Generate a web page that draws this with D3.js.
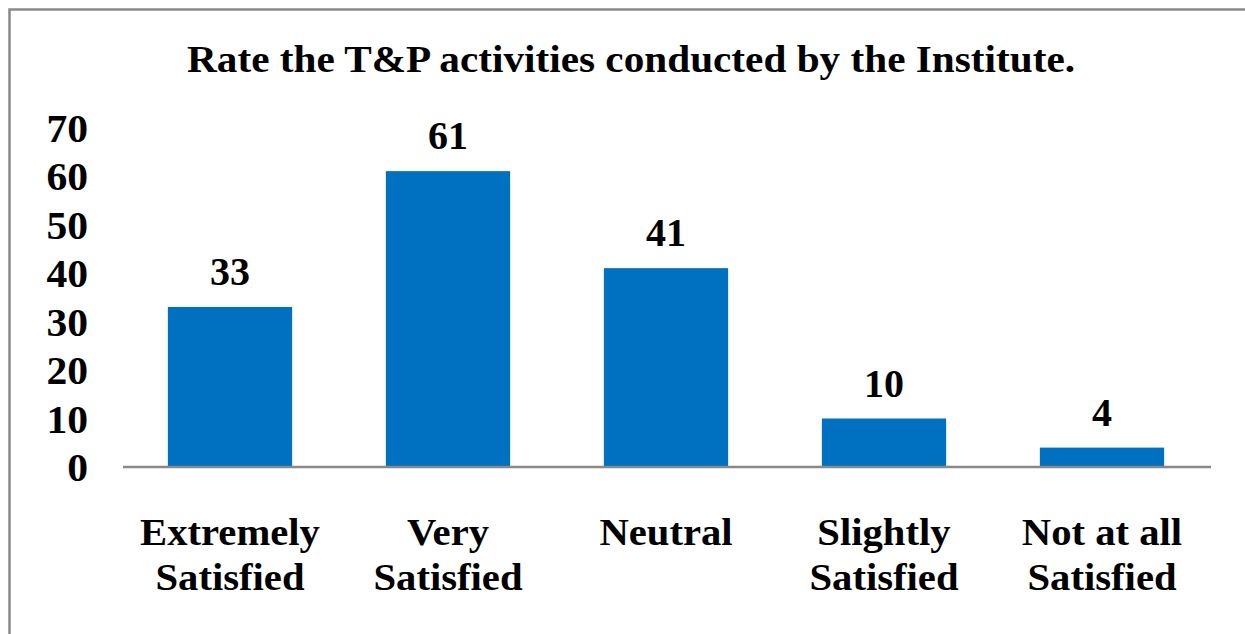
<!DOCTYPE html>
<html><head><meta charset="utf-8">
<script src="https://cdn.jsdelivr.net/npm/d3@7"></script>
<style>body{margin:0;background:#fff;}svg{display:block;}</style>
</head><body>
<svg id="c" width="1245" height="634"></svg>
<script>
const title = "Rate the T&P activities conducted by the Institute.";
const categories = [["Extremely","Satisfied"],["Very","Satisfied"],["Neutral"],["Slightly","Satisfied"],["Not at all","Satisfied"]];
const values = [33, 61, 41, 10, 4];
const yTicks = [0, 10, 20, 30, 40, 50, 60, 70];

const svg = d3.select("#c");
const font = "'Liberation Serif','Times New Roman',serif";
svg.append("rect").attr("x",9.5).attr("y",9.5).attr("width",1300).attr("height",700)
  .attr("fill","#fff").attr("stroke","#898989").attr("stroke-width",2.5);

const x = d3.scaleBand().domain(d3.range(values.length)).range([121,1211]).paddingInner(0.43).paddingOuter(0.215);
const y = d3.scaleLinear().domain([0,70]).range([467,127.5]);

svg.append("text").attr("x",631).attr("y",72).attr("text-anchor","middle")
  .attr("font-family",font).attr("font-weight","bold").attr("font-size",38)
  .attr("textLength",888).attr("lengthAdjust","spacingAndGlyphs").text(title);

svg.selectAll("text.tick").data(yTicks).enter().append("text").attr("class","tick")
  .attr("x",88).attr("y",d=>y(d)+14.5).attr("text-anchor","end")
  .attr("font-family",font).attr("font-weight","bold").attr("font-size",40)
  .attr("transform",`translate(88,0) scale(1.04,1) translate(-88,0)`).text(d=>d);

svg.selectAll("rect.bar").data(values).enter().append("rect").attr("class","bar")
  .attr("x",(d,i)=>x(i)).attr("width",x.bandwidth()).attr("y",d=>y(d)).attr("height",d=>y(0)-y(d))
  .attr("fill","#0070C0");

svg.append("line").attr("x1",123).attr("x2",1211).attr("y1",y(0)).attr("y2",y(0))
  .attr("stroke","#898989").attr("stroke-width",2.5);

svg.selectAll("text.val").data(values).enter().append("text").attr("class","val")
  .attr("x",(d,i)=>x(i)+x.bandwidth()/2).attr("y",d=>y(d)-22).attr("text-anchor","middle")
  .attr("font-family",font).attr("font-weight","bold").attr("font-size",40).text(d=>d);

const cl = svg.selectAll("text.cat").data(categories).enter().append("text").attr("class","cat")
  .attr("text-anchor","middle").attr("font-family",font).attr("font-weight","bold").attr("font-size",38)
  .attr("transform",(d,i)=>{const cx=x(i)+x.bandwidth()/2;return `translate(${cx},0) scale(1.07,1) translate(${-cx},0)`;});
cl.each(function(lines,i){
  const t = d3.select(this);
  lines.forEach((l,j)=>t.append("tspan").attr("x",x(i)+x.bandwidth()/2).attr("y",545+j*45).text(l));
});
</script>
</body></html>
